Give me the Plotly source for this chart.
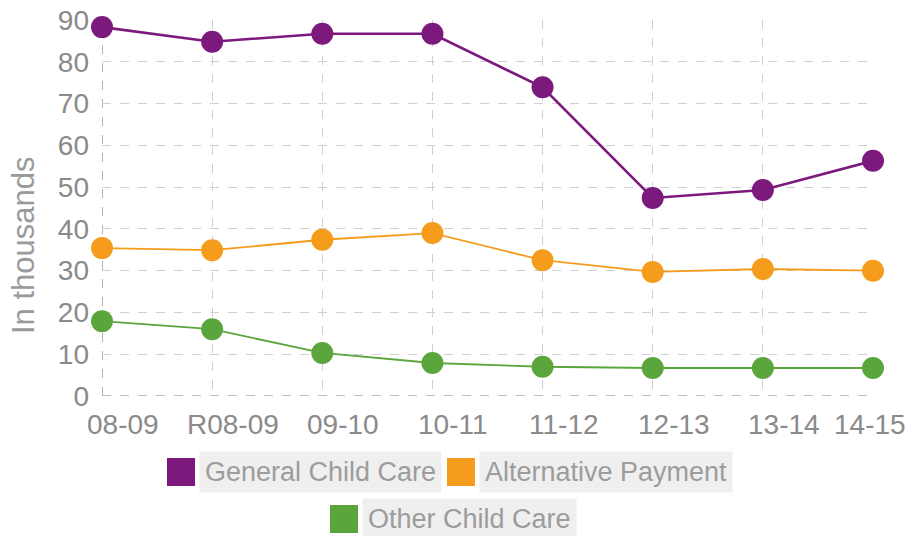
import plotly.graph_objects as go

categories = ["08-09", "R08-09", "09-10", "10-11", "11-12", "12-13", "13-14", "14-15"]
general_child_care = [88.3, 84.8, 86.7, 86.7, 73.9, 47.4, 49.3, 56.3]
alternative_payment = [35.4, 34.9, 37.4, 39.0, 32.5, 29.7, 30.4, 30.0]
other_child_care = [17.9, 16.0, 10.3, 7.9, 7.0, 6.7, 6.7, 6.7]
y_ticks = [0, 10, 20, 30, 40, 50, 60, 70, 80, 90]

series = [
    ("General Child Care", general_child_care, "#7b1a7c", 2.6),
    ("Alternative Payment", alternative_payment, "#f59c1c", 1.8),
    ("Other Child Care", other_child_care, "#5ba53d", 1.8),
]

W, H = 915, 536
L, R, T, B = 102, 42, 20, 140
PW, PH = W - L - R, H - T - B
FONT = "Liberation Sans, Arial, sans-serif"

def px(x):
    return (x - L) / PW

def py(y):
    return (H - B - y) / PH

fig = go.Figure()
for name, vals, color, lw in series:
    fig.add_trace(go.Scatter(
        x=categories, y=vals, name=name, mode="lines+markers",
        line=dict(color=color, width=lw),
        marker=dict(color=color, size=22),
        cliponaxis=False, showlegend=False,
    ))

shapes = []
annotations = []

# axis lines (dashed, darker)
shapes.append(dict(type="line", xref="x", yref="y", x0=0, x1=0, y0=0, y1=90,
                   line=dict(color="#9a9a9a", width=1.5, dash="dash"), layer="below"))
shapes.append(dict(type="line", xref="x", yref="y", x0=0, x1=len(categories) - 1, y0=0, y1=0,
                   line=dict(color="#aaaaaa", width=1.5, dash="dash"), layer="below"))

# x tick labels
for i, c in enumerate(categories):
    shift = 21 if i < len(categories) - 1 else -3
    annotations.append(dict(x=c, y=py(424), xref="x", yref="paper", text=c,
                            xanchor="center", yanchor="middle",
                            showarrow=False, xshift=shift,
                            font=dict(family=FONT, size=28, color="#8a8a8a")))

# y title
annotations.append(dict(x=px(24), y=py(245), xref="paper", yref="paper",
                        xanchor="center", yanchor="middle",
                        text="In thousands", textangle=-90, showarrow=False,
                        font=dict(family=FONT, size=31, color="#9a9a9a")))

# custom legend
legend_pos = [(167, 472), (447, 472), (330, 519)]
for (name, vals, color, lw), (sx, cy) in zip(series, legend_pos):
    shapes.append(dict(type="rect", xref="paper", yref="paper",
                       x0=px(sx), x1=px(sx + 28), y0=py(cy + 14), y1=py(cy - 14),
                       fillcolor=color, line=dict(color=color, width=0)))
    annotations.append(dict(x=px(sx + 32), y=py(cy), xref="paper", yref="paper",
                            xanchor="left", yanchor="middle", text=name, showarrow=False,
                            bgcolor="#efefef", borderpad=5,
                            font=dict(family=FONT, size=27, color="#9c9c9c")))

fig.update_layout(
    width=W, height=H,
    margin=dict(l=L, r=R, t=T, b=B, pad=0, autoexpand=False),
    paper_bgcolor="white", plot_bgcolor="white",
    shapes=shapes, annotations=annotations,
    xaxis=dict(type="category", range=[0, len(categories) - 1], automargin=False,
               showgrid=True, gridcolor="#d0d0d0", griddash="dash", gridwidth=1,
               showticklabels=False, ticks="", zeroline=False, showline=False, fixedrange=True),
    yaxis=dict(range=[0, 90], tickvals=y_ticks, showgrid=True, gridcolor="#d0d0d0",
               griddash="dash", gridwidth=1, zeroline=False, showline=False, ticks="",
               ticklabelstandoff=12, automargin=False,
               tickfont=dict(family=FONT, size=28, color="#8a8a8a")),
)

fig.write_html("out.html")
